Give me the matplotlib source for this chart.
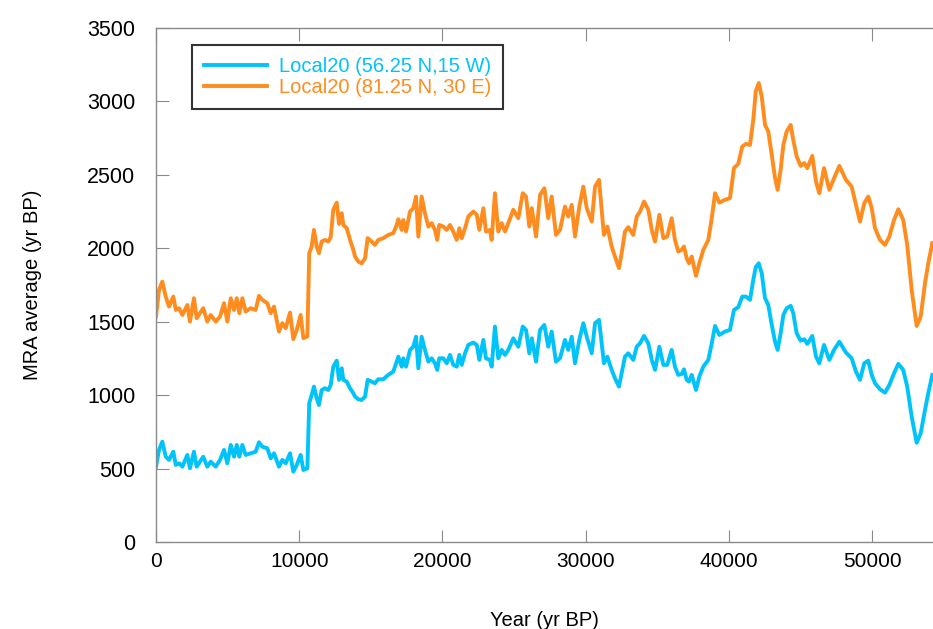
import numpy as np
import matplotlib
matplotlib.use("Agg")
import matplotlib.pyplot as plt

plt.rcParams['font.family'] = ['Liberation Sans', 'DejaVu Sans']

# Year (yr BP)
years = [0, 210, 440, 680, 910, 1210, 1380, 1610, 1840, 2190, 2370, 2650, 2840, 3300, 3580,
         3820, 4170, 4470, 4750, 4980, 5220, 5450, 5640, 5820, 6030, 6260, 6610, 6960, 7190,
         7420, 7770, 8010, 8240, 8590, 8820, 9060, 9360, 9590, 9830, 10100, 10290, 10570,
         10700, 10870, 11030, 11220, 11380, 11570, 11800, 12030, 12200, 12380, 12620, 12780,
         12970, 13080, 13320, 13550, 13780, 13900, 14130, 14360, 14600, 14780, 15060, 15290,
         15520, 15870, 16220, 16570, 16810, 16920, 17160, 17270, 17460, 17740, 17970, 18160,
         18320, 18550, 18780, 19020, 19250, 19480, 19640, 19780, 20060, 20300, 20530, 20760,
         21000, 21180, 21350, 21580, 21810, 22160, 22400, 22580, 22860, 23040, 23320, 23440,
         23670, 23900, 24140, 24370, 24600, 24950, 25300, 25610, 25840, 26070, 26240, 26540,
         26820, 27120, 27390, 27630, 27930, 28210, 28560, 28790, 29030, 29260, 29560, 29840,
         30080, 30430, 30660, 30940, 31120, 31280, 31520, 31820, 32050, 32330, 32520, 32750,
         32980, 33330, 33570, 33800, 34080, 34380, 34620, 34850, 35150, 35430, 35700, 36010,
         36240, 36470, 36710, 36870, 37060, 37220, 37410, 37710, 37940, 38220, 38570, 38810,
         39040, 39340, 39730, 40080, 40360, 40660, 40940, 41200, 41480, 41710, 41880, 42090,
         42300, 42530, 42760, 43000, 43230, 43410, 43620, 43810, 44040, 44320, 44500, 44740,
         45020, 45270, 45480, 45830, 46090, 46320, 46650, 47020, 47350, 47720, 48180, 48580,
         48880, 49160, 49460, 49740, 49980, 50210, 50560, 50910, 51210, 51540, 51840, 52180,
         52460, 52770, 53120, 53400, 53700, 53930, 54210]

# Local20 (81.25 N, 30 E)
mra_north = [1535, 1717, 1773, 1671, 1603, 1671, 1580, 1592, 1546, 1614, 1501, 1660, 1524, 1592, 1501,
             1546, 1501, 1535, 1626, 1501, 1660, 1580, 1660, 1558, 1660, 1569, 1592, 1580, 1676,
             1649, 1626, 1558, 1603, 1433, 1490, 1456, 1562, 1381, 1444, 1546, 1388, 1399,
             1967, 2012, 2125, 2012, 1967, 2046, 2057, 2046, 2076, 2262, 2311, 2166,
             2239, 2159, 2137, 2057, 1989, 1944, 1909, 1898, 1932, 2069, 2046, 2023,
             2057, 2069, 2091, 2103, 2159, 2198, 2125, 2193, 2114, 2250, 2273, 2352,
             2080, 2352, 2239, 2148, 2171, 2125, 2057, 2159, 2148, 2125, 2159, 2114,
             2057, 2137, 2069, 2137, 2216, 2250, 2228, 2125, 2273, 2114, 2125, 2057,
             2375, 2114, 2171, 2114, 2171, 2262, 2205, 2375, 2352, 2148, 2273, 2080,
             2364, 2409, 2205, 2352, 2091, 2125, 2284, 2216, 2296, 2080, 2284, 2420,
             2273, 2182, 2420, 2466, 2262, 2091, 2148, 2012, 1944, 1865, 1967, 2114,
             2144, 2091, 2216, 2250, 2318, 2262, 2125, 2046, 2228, 2069, 2080, 2205,
             2057, 1978, 1989, 2012, 1932, 1898, 1944, 1812, 1898, 1989, 2057, 2205,
             2375, 2311, 2330, 2341, 2546, 2575, 2693, 2711, 2704, 2875, 3067, 3125,
             3033, 2840, 2795, 2636, 2478, 2398, 2534, 2704, 2795, 2840, 2738, 2625,
             2561, 2580, 2546, 2629, 2454, 2375, 2546, 2398, 2477, 2561, 2466, 2420,
             2296, 2182, 2307, 2352, 2273, 2137, 2057, 2023, 2080, 2193, 2266, 2193,
             2023, 1717, 1471, 1535, 1762, 1898, 2035]

# Local20 (56.25 N,15 W)
mra_south = [513, 627, 683, 581, 559, 615, 525, 536, 513, 593, 502, 615, 513, 581, 513,
             547, 513, 559, 627, 536, 661, 581, 661, 581, 661, 593, 604, 615, 679,
             649, 638, 570, 604, 513, 559, 536, 604, 479, 525, 593, 490, 502,
             945, 1001, 1058, 979, 933, 1035, 1047, 1035, 1069, 1194, 1235, 1104,
             1183, 1104, 1092, 1047, 1013, 990, 972, 967, 990, 1104, 1092, 1081,
             1108, 1108, 1138, 1160, 1228, 1262, 1194, 1251, 1194, 1308, 1330, 1398,
             1183, 1398, 1308, 1228, 1251, 1217, 1172, 1251, 1251, 1217, 1274, 1206,
             1194, 1274, 1206, 1285, 1342, 1358, 1342, 1240, 1376, 1251, 1240, 1194,
             1467, 1251, 1308, 1274, 1308, 1387, 1330, 1467, 1444, 1285, 1387, 1228,
             1444, 1478, 1330, 1433, 1228, 1251, 1376, 1308, 1398, 1217, 1376, 1490,
             1398, 1285, 1490, 1512, 1353, 1217, 1262, 1172, 1115, 1058, 1149, 1262,
             1285, 1240, 1330, 1353, 1403, 1353, 1240, 1172, 1330, 1206, 1206, 1308,
             1194, 1138, 1144, 1176, 1104, 1092, 1138, 1035, 1126, 1194, 1240, 1353,
             1471, 1410, 1433, 1444, 1580, 1599, 1671, 1671, 1649, 1785, 1871, 1898,
             1830, 1660, 1614, 1478, 1364, 1308, 1421, 1546, 1592, 1608, 1558, 1421,
             1371, 1381, 1349, 1403, 1262, 1217, 1342, 1240, 1308, 1364, 1290, 1251,
             1160, 1104, 1217, 1235, 1138, 1081, 1040, 1017, 1069, 1149, 1213, 1172,
             1058, 854, 676, 740, 899, 1013, 1138]

labels = ["Local20 (56.25 N,15 W)", "Local20 (81.25 N, 30 E)"]
colors = ["#00C3FA", "#FF8C1E"]

fig = plt.figure(figsize=(9.33, 6.29), dpi=100)
ax = fig.add_axes([156/933, 87/629, 1 - 156/933, 514/629])

ax.plot(years, mra_south, color=colors[0], lw=2.8, label=labels[0])
ax.plot(years, mra_north, color=colors[1], lw=2.8, label=labels[1])

ax.set_xlim(0, 54260)
ax.set_ylim(0, 3500)
ax.set_xticks(np.arange(0, 50001, 10000))
ax.set_yticks(np.arange(0, 3501, 500))

for side in ["left", "top", "bottom"]:
    ax.spines[side].set_color("#8a8a8a")
    ax.spines[side].set_linewidth(1.0)
ax.spines["right"].set_visible(False)

ax.tick_params(axis="x", direction="in", top=True, length=9, color="#8a8a8a",
               labelsize=15, pad=7)
ax.tick_params(axis="y", direction="in", length=9, color="#8a8a8a",
               labelsize=15.5, pad=15)

ax.set_xlabel("Year (yr BP)", fontsize=14.5, labelpad=29)
ax.set_ylabel("MRA average (yr BP)", fontsize=14.5, labelpad=32)

leg = ax.legend(loc="upper left", bbox_to_anchor=(192/933, 1 - 45/629),
                bbox_transform=fig.transFigure, borderaxespad=0,
                fontsize=14.5, frameon=True, fancybox=False, handlelength=3.1,
                handletextpad=0.6, labelspacing=0.1, borderpad=0.6)
leg.get_frame().set_edgecolor("black")
leg.get_frame().set_linewidth(1.5)
for txt, c in zip(leg.get_texts(), colors):
    txt.set_color(c)

fig.savefig("out.png", dpi=100)
